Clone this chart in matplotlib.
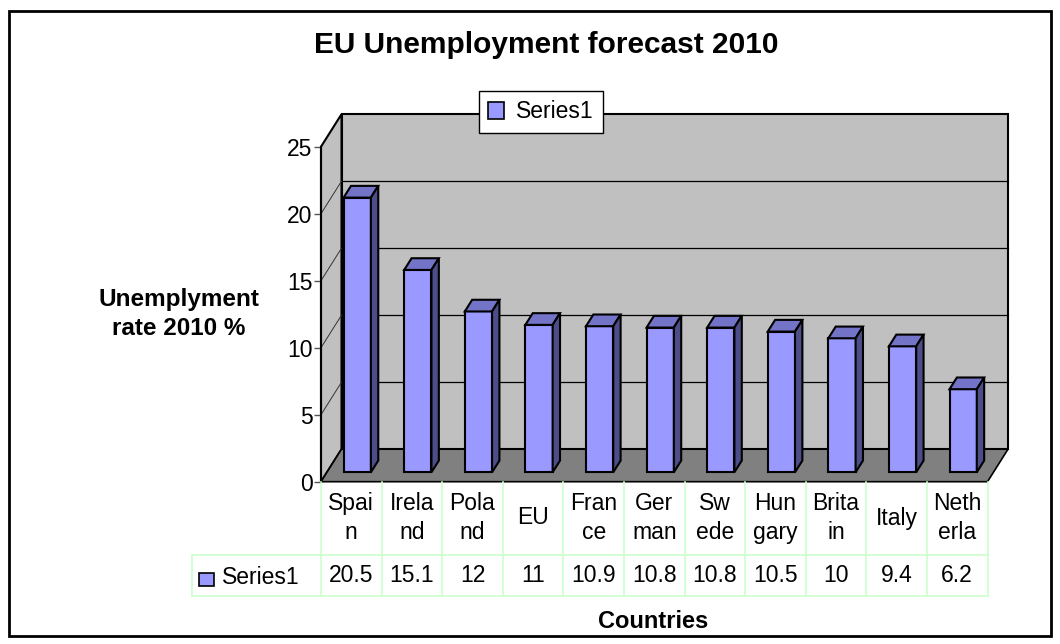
import matplotlib
matplotlib.use("Agg")
import matplotlib.pyplot as plt
import matplotlib.transforms as mtransforms
from matplotlib.patches import Polygon, Rectangle, Patch
from matplotlib.lines import Line2D

plt.rcParams['font.family'] = ['Liberation Sans', 'DejaVu Sans']

# data, as shown in the chart's data table
countries = ["Spai\nn", "Irela\nnd", "Pola\nnd", "EU", "Fran\nce", "Ger\nman",
             "Sw\nede", "Hun\ngary", "Brita\nin", "Italy", "Neth\nerla"]
rates = [20.5, 15.1, 12, 11, 10.9, 10.8, 10.8, 10.5, 10, 9.4, 6.2]
rate_labels = ["20.5", "15.1", "12", "11", "10.9", "10.8", "10.8", "10.5", "10", "9.4", "6.2"]
yticks = [0, 5, 10, 15, 20, 25]
series_name = "Series1"

front = '#9999FF'
top_c = '#7373C8'
side_c = '#4D4D8A'
grid_c = '#CCFFCC'
fs = 16.5

W, H = 1060, 644
fig = plt.figure(figsize=(W / 100, H / 100), dpi=100)

def fx(x):
    return x / W

def fy(y):
    return 1 - y / H

n = len(rates)
ax = fig.add_axes([fx(321), fy(481.7), (987.5 - 321) / W, (481.7 - 146.7) / H])
ax.set_xlim(-0.5, n - 0.5)
ax.set_ylim(0, yticks[-1])
ax.patch.set_visible(False)

# depth of the 3d box in data units
dx = 20.5 / (666.5 / n)
dy = 32.5 / 13.4
x0, x1 = -0.5, n - 0.5
ytop = yticks[-1]

back = Polygon([(x0 + dx, dy), (x1 + dx, dy), (x1 + dx, ytop + dy), (x0 + dx, ytop + dy)],
               closed=True, fc='#C0C0C0', ec='black', lw=1.5, clip_on=False, zorder=1)
side = Polygon([(x0, 0), (x0 + dx, dy), (x0 + dx, ytop + dy), (x0, ytop)],
               closed=True, fc='#C0C0C0', ec='black', lw=1.5, clip_on=False, zorder=1)
floor = Polygon([(x0, 0), (x1, 0), (x1 + dx, dy), (x0 + dx, dy)],
                closed=True, fc='#808080', ec='black', lw=1.2, clip_on=False, zorder=2)
for p in (back, side, floor):
    ax.add_patch(p)

for v in yticks[1:-1]:
    ax.plot([x0 + dx, x1 + dx], [v + dy, v + dy], color='black', lw=0.9, clip_on=False, zorder=1.5)
    ax.plot([x0, x0 + dx], [v, v + dy], color='#333333', lw=0.7, clip_on=False, zorder=1.5)

# bars
t0, t1, bw = 0.29, 0.65, 0.45
xs = [i + t0 * dx for i in range(n)]
b0 = t0 * dy
ax.bar(xs, rates, width=bw, bottom=b0, color=front, edgecolor='black', lw=1.5,
       zorder=5, clip_on=False)
ddx = (t1 - t0) * dx
ddy = (t1 - t0) * dy
for xc, v in zip(xs, rates):
    l, r, tp = xc - bw / 2, xc + bw / 2, b0 + v
    ax.add_patch(Polygon([(l, tp), (r, tp), (r + ddx, tp + ddy), (l + ddx, tp + ddy)],
                         closed=True, fc=top_c, ec='black', lw=1.5, clip_on=False, zorder=5))
    ax.add_patch(Polygon([(r, b0), (r + ddx, b0 + ddy), (r + ddx, tp + ddy), (r, tp)],
                         closed=True, fc=side_c, ec='black', lw=1.5, clip_on=False, zorder=5))

for s in ['top', 'right', 'bottom']:
    ax.spines[s].set_visible(False)
ax.spines['left'].set_linewidth(1.5)
ax.spines['left'].set_zorder(3)
ax.set_yticks(yticks)
ax.set_xticks([])
ax.tick_params(axis='y', length=5, width=1, labelsize=fs, pad=1, color='#555555')

# data table under the plot
tr = mtransforms.blended_transform_factory(ax.transData, fig.transFigure)
for k in range(n + 1):
    fig.add_artist(Line2D([x0 + k, x0 + k], [fy(481.7), fy(596)], transform=tr, color=grid_c, lw=1.2))
for yy in (555, 596):
    fig.add_artist(Line2D([fx(192), fx(321)], [fy(yy), fy(yy)], transform=fig.transFigure, color=grid_c, lw=1.2))
    fig.add_artist(Line2D([x0, x1], [fy(yy), fy(yy)], transform=tr, color=grid_c, lw=1.2))
fig.add_artist(Line2D([fx(192), fx(192)], [fy(555), fy(596)], transform=fig.transFigure, color=grid_c, lw=1.2))

for i, (c, lab) in enumerate(zip(countries, rate_labels)):
    fig.text(i, fy(518), c, transform=tr, ha='center', va='center', fontsize=fs, linespacing=1.3)
    fig.text(i, fy(576), lab, transform=tr, ha='center', va='center', fontsize=fs)

fig.add_artist(Rectangle((fx(199), fy(586)), fx(15), 13 / H, transform=fig.transFigure,
                         fc=front, ec='black', lw=1.2))
fig.text(fx(222), fy(577), series_name, ha='left', va='center', fontsize=fs)

# legend
fig.legend(handles=[Patch(fc=front, ec='black', lw=1.2)], labels=[series_name],
           loc='center', bbox_to_anchor=(fx(541), fy(112)), fontsize=fs,
           frameon=True, fancybox=False, edgecolor='black', framealpha=1,
           handlelength=0.7, handleheight=0.7, handletextpad=0.5, borderpad=0.4)

fig.text(fx(546), fy(45), "EU Unemployment forecast 2010", ha='center', va='center',
         fontsize=21.5, fontweight='bold')
fig.text(fx(179), fy(314), "Unemplyment\nrate 2010 %", ha='center', va='center',
         fontsize=17.5, fontweight='bold', linespacing=1.35)
fig.text(fx(653), fy(622), "Countries", ha='center', va='center', fontsize=17, fontweight='bold')

fig.add_artist(Rectangle((fx(9), fy(636)), (1051 - 9) / W, (636 - 11) / H,
                         transform=fig.transFigure, fill=False, ec='black', lw=2))

fig.savefig("out.png", dpi=100)
